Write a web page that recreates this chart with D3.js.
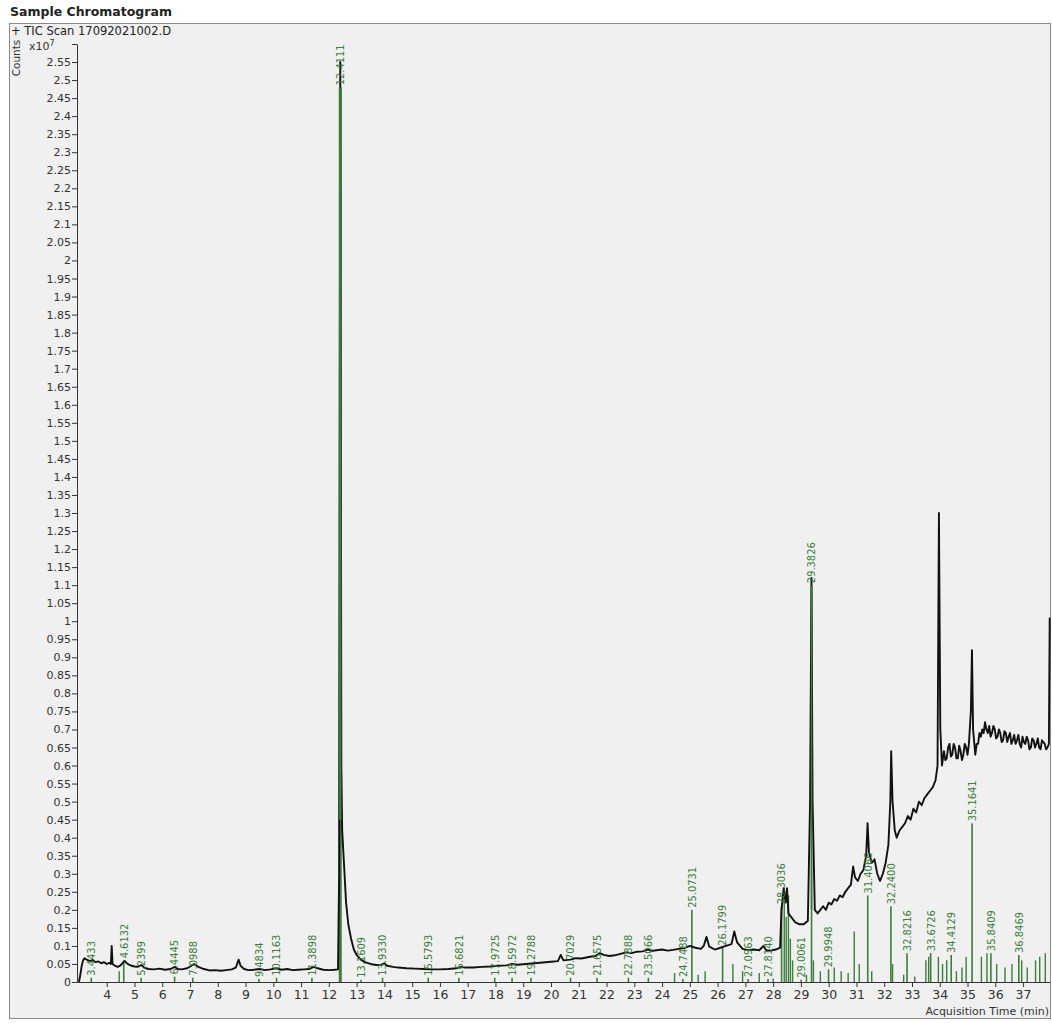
<!DOCTYPE html>
<html>
<head>
<meta charset="utf-8">
<script src="https://cdn.jsdelivr.net/npm/d3@7"></script>
<style>
  body { margin: 0; background: #fff; }
  text { font-family: "DejaVu Sans", Verdana, sans-serif; }
</style>
</head>
<body>
<div id="chart"></div>
<script>
// TIC trace, [acquisition time (min), counts x10^7]
var ticTrace = [
  [3.00,0.000],[3.05,0.020],[3.10,0.045],[3.15,0.060],[3.20,0.066],[3.30,0.061],[3.40,0.058],
  [3.50,0.061],[3.60,0.055],[3.70,0.057],[3.80,0.052],[3.90,0.055],[4.00,0.050],[4.10,0.053],
  [4.15,0.050],[4.18,0.100],[4.21,0.050],[4.30,0.045],[4.40,0.042],[4.50,0.046],[4.60,0.055],
  [4.65,0.058],[4.75,0.050],[4.90,0.045],[5.00,0.043],[5.10,0.042],[5.25,0.047],[5.35,0.040],
  [5.50,0.036],[5.70,0.035],[5.90,0.037],[6.10,0.034],[6.30,0.036],[6.45,0.042],[6.55,0.036],
  [6.70,0.035],[6.90,0.038],[7.05,0.045],[7.15,0.050],[7.30,0.042],[7.50,0.036],[7.70,0.032],
  [7.90,0.033],[8.10,0.031],[8.30,0.033],[8.50,0.035],[8.65,0.040],[8.75,0.062],[8.82,0.045],
  [8.95,0.036],[9.10,0.033],[9.30,0.034],[9.50,0.036],[9.70,0.033],[9.90,0.035],[10.10,0.038],
  [10.30,0.034],[10.50,0.036],[10.70,0.033],[10.90,0.034],[11.10,0.035],[11.30,0.036],
  [11.45,0.042],[11.60,0.038],[11.80,0.034],[12.00,0.033],[12.20,0.034],[12.33,0.035],
  [12.37,0.300],[12.39,1.500],[12.41,2.550],[12.43,1.600],[12.45,0.600],[12.48,0.420],
  [12.55,0.320],[12.62,0.220],[12.70,0.160],[12.80,0.120],[12.90,0.090],[13.00,0.075],
  [13.15,0.062],[13.30,0.055],[13.50,0.050],[13.70,0.047],[13.90,0.048],[14.00,0.052],
  [14.10,0.045],[14.30,0.042],[14.50,0.040],[14.80,0.038],[15.10,0.037],[15.40,0.036],
  [15.70,0.035],[16.00,0.035],[16.30,0.036],[16.60,0.038],[16.75,0.042],[16.90,0.040],
  [17.20,0.040],[17.50,0.042],[17.80,0.043],[18.10,0.045],[18.40,0.046],[18.60,0.050],
  [18.80,0.048],[19.10,0.050],[19.40,0.052],[19.70,0.054],[20.00,0.056],[20.25,0.058],
  [20.35,0.075],[20.45,0.060],[20.70,0.062],[20.90,0.066],[21.10,0.065],[21.40,0.070],
  [21.60,0.072],[21.75,0.080],[21.90,0.075],[22.10,0.072],[22.30,0.074],[22.50,0.078],
  [22.70,0.082],[22.90,0.080],[23.10,0.084],[23.30,0.085],[23.50,0.090],[23.60,0.086],
  [23.80,0.088],[24.00,0.090],[24.20,0.087],[24.40,0.089],[24.60,0.092],[24.80,0.094],
  [25.00,0.100],[25.20,0.095],[25.40,0.092],[25.50,0.100],[25.60,0.125],[25.70,0.098],
  [25.90,0.090],[26.10,0.095],[26.30,0.100],[26.50,0.105],[26.60,0.140],[26.70,0.110],
  [26.90,0.092],[27.10,0.088],[27.30,0.090],[27.50,0.088],[27.65,0.100],[27.75,0.088],
  [27.90,0.087],[28.10,0.090],[28.25,0.095],[28.30,0.200],[28.38,0.260],[28.45,0.220],
  [28.50,0.260],[28.55,0.190],[28.65,0.180],[28.80,0.165],[28.95,0.160],[29.10,0.160],
  [29.25,0.170],[29.33,0.500],[29.38,1.120],[29.42,0.500],[29.50,0.200],[29.60,0.190],
  [29.70,0.200],[29.80,0.210],[29.90,0.200],[30.00,0.220],[30.10,0.215],[30.20,0.230],
  [30.30,0.225],[30.40,0.240],[30.50,0.235],[30.60,0.250],[30.70,0.260],[30.80,0.270],
  [30.88,0.320],[30.95,0.290],[31.05,0.280],[31.15,0.300],[31.25,0.310],[31.35,0.350],
  [31.40,0.440],[31.45,0.360],[31.55,0.330],[31.65,0.340],[31.75,0.300],[31.85,0.280],
  [31.95,0.300],[32.05,0.330],[32.15,0.380],[32.22,0.500],[32.25,0.640],[32.30,0.500],
  [32.38,0.420],[32.45,0.400],[32.55,0.420],[32.65,0.430],[32.75,0.440],[32.85,0.460],
  [32.95,0.450],[33.05,0.480],[33.15,0.470],[33.25,0.500],[33.35,0.490],[33.45,0.510],
  [33.55,0.520],[33.65,0.530],[33.75,0.540],[33.85,0.560],[33.92,0.600],[33.97,1.300],
  [34.02,0.700],[34.08,0.600],[34.15,0.640],[34.20,0.615],[34.25,0.620],[34.30,0.650],
  [34.35,0.660],[34.40,0.625],[34.45,0.630],[34.50,0.660],[34.55,0.650],[34.60,0.620],
  [34.65,0.620],[34.70,0.655],[34.75,0.640],[34.80,0.615],[34.85,0.630],[34.90,0.660],
  [34.95,0.650],[35.00,0.630],[35.05,0.660],[35.12,0.750],[35.16,0.920],[35.20,0.700],
  [35.28,0.630],[35.33,0.660],[35.38,0.660],[35.43,0.690],[35.48,0.680],[35.53,0.700],
  [35.58,0.690],[35.63,0.720],[35.68,0.700],[35.73,0.690],[35.78,0.710],[35.83,0.680],
  [35.88,0.690],[35.93,0.710],[35.98,0.700],[36.03,0.675],[36.08,0.680],[36.13,0.700],
  [36.18,0.690],[36.23,0.665],[36.28,0.670],[36.33,0.695],[36.38,0.690],[36.43,0.665],
  [36.48,0.680],[36.53,0.690],[36.58,0.660],[36.63,0.670],[36.68,0.685],[36.73,0.660],
  [36.78,0.670],[36.83,0.685],[36.88,0.660],[36.93,0.650],[36.98,0.680],[37.03,0.665],
  [37.08,0.660],[37.13,0.680],[37.18,0.670],[37.23,0.645],[37.28,0.650],[37.33,0.675],
  [37.38,0.670],[37.43,0.650],[37.48,0.660],[37.53,0.675],[37.58,0.650],[37.63,0.645],
  [37.68,0.670],[37.73,0.665],[37.78,0.660],[37.83,0.645],[37.88,0.650],[37.93,0.660],
  [37.96,1.010]
];

// integrated peaks with retention time labels
var peakRT = [3.4433, 4.6132, 5.2399, 6.4445, 7.0988, 9.4834, 10.1163, 11.3898, 12.4111,
  13.1609, 13.9330, 15.5793, 16.6821, 17.9725, 18.5972, 19.2788, 20.7029, 21.6575, 22.7888,
  23.5066, 24.7488, 25.0731, 26.1799, 27.0963, 27.8140, 28.3036, 29.0061, 29.3826, 29.9948,
  31.4066, 32.2400, 32.8216, 33.6726, 34.4129, 35.1641, 35.8409, 36.8469];
var peakHeight = [0.012, 0.060, 0.012, 0.015, 0.012, 0.008, 0.012, 0.012, 2.48,
  0.006, 0.012, 0.012, 0.012, 0.012, 0.012, 0.012, 0.012, 0.012, 0.012,
  0.012, 0.008, 0.200, 0.095, 0.008, 0.008, 0.210, 0.006, 1.10, 0.035,
  0.240, 0.210, 0.080, 0.080, 0.075, 0.440, 0.080, 0.075];

// smaller integrated peaks, drawn without labels
var minorRT = [4.45, 24.45, 25.30, 25.55, 26.55, 26.90, 27.50, 28.00, 28.40, 28.47, 28.55,
  28.62, 28.70, 29.20, 29.45, 29.70, 30.20, 30.45, 30.70, 30.92, 31.10, 31.55, 32.30, 32.70,
  33.10, 33.50, 33.60, 33.95, 34.10, 34.25, 34.60, 34.80, 34.95, 35.50, 35.70, 36.05, 36.35,
  36.60, 36.95, 37.15, 37.45, 37.60, 37.80];
var minorHeight = [0.03, 0.025, 0.02, 0.03, 0.05, 0.03, 0.025, 0.01, 0.26, 0.18, 0.24,
  0.12, 0.06, 0.02, 0.06, 0.03, 0.04, 0.03, 0.025, 0.14, 0.05, 0.03, 0.05, 0.02,
  0.015, 0.06, 0.07, 0.07, 0.05, 0.06, 0.03, 0.04, 0.07, 0.07, 0.08, 0.05, 0.04,
  0.05, 0.06, 0.04, 0.06, 0.07, 0.08];

var yTicks = d3.range(0, 52).map(function(i) { return i * 0.05; });
var xTicks = d3.range(4, 38);

var width = 1052, height = 1023;
var green = "#3d7d3d";

var svg = d3.select("#chart")
            .append("svg")
            .attr("width", width)
            .attr("height", height);

// page and frame
svg.append("rect").attr("width", width).attr("height", height).attr("fill", "#ffffff");
svg.append("rect")
   .attr("x", 9.5).attr("y", 23.5).attr("width", 1041).attr("height", 995)
   .attr("fill", "#f0f0f0").attr("stroke", "#8a8a8a");

svg.append("text")
   .attr("x", 10).attr("y", 16)
   .style("font-size", "12.5px").style("font-weight", "bold").attr("fill", "#222")
   .text("Sample Chromatogram");

svg.append("text")
   .attr("x", 11).attr("y", 35)
   .style("font-size", "11.5px").attr("fill", "#222")
   .text("+ TIC Scan 17092021002.D");

var x = d3.scaleLinear().domain([2.93, 37.97]).range([77, 1050]);
var y = d3.scaleLinear().domain([0, 2.6]).range([982, 44]);

// axes
var yAxis = svg.append("g")
   .attr("transform", "translate(77,0)")
   .call(d3.axisLeft(y).tickValues(yTicks.concat([2.6])).tickSize(5).tickSizeOuter(0)
      .tickFormat(function(d) { return d > 2.575 ? "" : String(+d.toFixed(2)); }));
yAxis.select(".domain").attr("stroke", "#333");
yAxis.selectAll(".tick line").attr("stroke", "#333");
yAxis.selectAll(".tick text")
   .style("font-size", "11px").style("font-family", "DejaVu Sans, sans-serif")
   .attr("fill", "#333").attr("x", -6);

var xAxis = svg.append("g")
   .attr("transform", "translate(0,982)")
   .call(d3.axisBottom(x).tickValues(xTicks).tickSize(5).tickSizeOuter(0)
      .tickFormat(d3.format("d")));
xAxis.select(".domain").attr("stroke", "#333");
xAxis.selectAll(".tick line").attr("stroke", "#333");
xAxis.selectAll(".tick text")
   .style("font-size", "12.5px").style("font-family", "DejaVu Sans, sans-serif")
   .attr("fill", "#333").attr("y", 8);

// exponent and axis titles
var expo = svg.append("text")
   .attr("x", 29).attr("y", 50)
   .style("font-size", "11px").attr("fill", "#333");
expo.append("tspan").text("x10");
expo.append("tspan").attr("dy", -4).style("font-size", "8px").text("7");

svg.append("text")
   .attr("transform", "translate(20,58) rotate(-90)")
   .attr("text-anchor", "middle")
   .style("font-size", "10.5px").attr("fill", "#333")
   .text("Counts");

svg.append("text")
   .attr("x", 1049).attr("y", 1015)
   .attr("text-anchor", "end")
   .style("font-size", "11px").attr("fill", "#333")
   .text("Acquisition Time (min)");

// green integration sticks
var peaks = peakRT.map(function(t, i) { return { t: t, h: peakHeight[i] }; });
var minors = minorRT.map(function(t, i) { return { t: t, h: minorHeight[i] }; });

svg.append("g").selectAll("line")
   .data(minors)
   .enter()
   .append("line")
   .attr("x1", function(d) { return x(d.t); })
   .attr("x2", function(d) { return x(d.t); })
   .attr("y1", y(0))
   .attr("y2", function(d) { return y(d.h); })
   .attr("stroke", green)
   .attr("stroke-width", 1.4);

svg.append("g").selectAll("line")
   .data(peaks)
   .enter()
   .append("line")
   .attr("x1", function(d) { return x(d.t); })
   .attr("x2", function(d) { return x(d.t); })
   .attr("y1", y(0))
   .attr("y2", function(d) { return y(d.h); })
   .attr("stroke", green)
   .attr("stroke-width", function(d) { return d.h > 2 ? 3 : 1.6; });

// TIC trace
var line = d3.line()
   .x(function(d) { return x(d[0]); })
   .y(function(d) { return y(d[1]); });

svg.append("path")
   .datum(ticTrace)
   .attr("d", line)
   .attr("fill", "none")
   .attr("stroke", "#111")
   .attr("stroke-width", 1.9)
   .attr("stroke-linejoin", "round");

// keep the two big peak sticks visible over the trace
svg.append("line")
   .attr("x1", x(12.4111)).attr("x2", x(12.4111))
   .attr("y1", y(0.45)).attr("y2", y(2.48))
   .attr("stroke", green).attr("stroke-width", 2.4);
svg.append("line")
   .attr("x1", x(29.3826)).attr("x2", x(29.3826))
   .attr("y1", y(0.2)).attr("y2", y(1.1))
   .attr("stroke", green).attr("stroke-width", 1.6);

// retention time labels, reading bottom to top
svg.append("g").selectAll("text")
   .data(peaks)
   .enter()
   .append("text")
   .attr("transform", function(d) {
     return "translate(" + x(d.t) + "," + (y(d.h) - 2) + ") rotate(-90)";
   })
   .attr("text-anchor", "start")
   .attr("dy", "0.35em")
   .style("font-family", "'DejaVu Sans Condensed', 'Liberation Sans Narrow', sans-serif")
   .style("font-size", "11px")
   .attr("fill", green)
   .text(function(d) { return d3.format(".4f")(d.t); });
</script>
</body>
</html>
